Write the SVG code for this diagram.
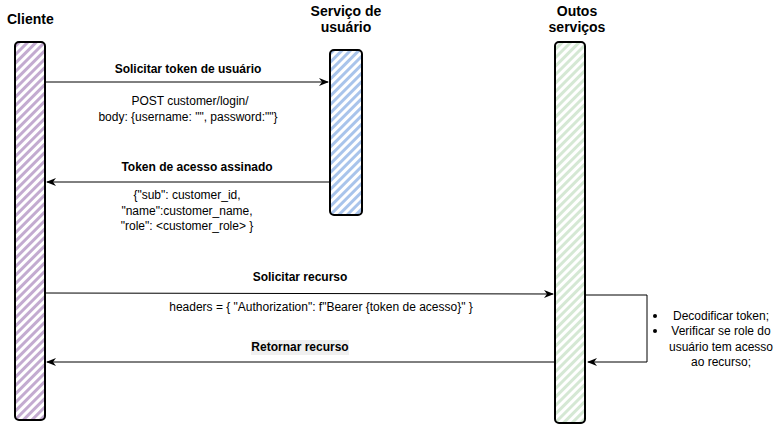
<svg xmlns="http://www.w3.org/2000/svg" width="777" height="425" viewBox="0 0 777 425">
<style>
  text { font-family: "Liberation Sans", Arial, sans-serif; fill: #000; }
  .title { font-size: 14px; font-weight: bold; }
  .lbl { font-size: 12px; font-weight: bold; }
  .txt { font-size: 12px; }
  .bar { stroke: #000; stroke-width: 2; }
  .conn { stroke: #000; stroke-width: 1; fill: none; }
</style>
<defs>
  <pattern id="hPurple" width="6" height="6" patternUnits="userSpaceOnUse" patternTransform="rotate(45)">
    <rect width="6" height="6" fill="#fff"/>
    <rect width="3" height="6" fill="#c3abd0"/>
  </pattern>
  <pattern id="hBlue" width="6" height="6" patternUnits="userSpaceOnUse" patternTransform="rotate(45)">
    <rect width="6" height="6" fill="#fff"/>
    <rect width="3" height="6" fill="#a9c4eb"/>
  </pattern>
  <pattern id="hGreen" width="6" height="6" patternUnits="userSpaceOnUse" patternTransform="rotate(45)">
    <rect width="6" height="6" fill="#fff"/>
    <rect width="3" height="6" fill="#d5e8d4"/>
  </pattern>
  <marker id="arr" viewBox="0 0 10 10" refX="9" refY="5" markerWidth="10" markerHeight="10" markerUnits="userSpaceOnUse" orient="auto">
    <path d="M0,1 L10,5 L0,9 L3,5 Z" fill="#000"/>
  </marker>
</defs>
<rect width="777" height="425" fill="#fff"/>

<g id="cliente">
  <text class="title" x="7" y="24">Cliente</text>
  <rect class="bar" x="15" y="42" width="30" height="378" rx="4" fill="url(#hPurple)"/>
</g>

<g id="servico-usuario">
  <text class="title" x="346" y="16" text-anchor="middle">Serviço de</text>
  <text class="title" x="346" y="32" text-anchor="middle">usuário</text>
  <rect class="bar" x="330" y="50" width="32" height="165" rx="4" fill="url(#hBlue)"/>
</g>

<g id="outros-servicos">
  <text class="title" x="577" y="16" text-anchor="middle">Outos</text>
  <text class="title" x="577" y="32" text-anchor="middle">serviços</text>
  <rect class="bar" x="555" y="42" width="30" height="381" rx="4" fill="url(#hGreen)"/>
</g>

<g id="processamento">
  <circle cx="655" cy="316" r="2" fill="#000"/>
  <circle cx="655" cy="331" r="2" fill="#000"/>
  <text class="txt" x="721" y="320" text-anchor="middle">Decodificar token;</text>
  <text class="txt" x="721" y="335" text-anchor="middle">Verificar se role do</text>
  <text class="txt" x="721" y="351" text-anchor="middle">usuário tem acesso</text>
  <text class="txt" x="721" y="366" text-anchor="middle">ao recurso;</text>
</g>

<g id="connectors">
  <line class="conn" x1="46" y1="82" x2="328" y2="82" marker-end="url(#arr)"/>
  <text class="lbl" x="188" y="73" text-anchor="middle">Solicitar token de usuário</text>
  <text class="txt" x="190" y="105" text-anchor="middle">POST customer/login/</text>
  <text class="txt" x="188" y="121" text-anchor="middle">body: {username: "", password:""}</text>

  <line class="conn" x1="330" y1="182" x2="47" y2="182" marker-end="url(#arr)"/>
  <text class="lbl" x="197" y="171" text-anchor="middle">Token de acesso assinado</text>
  <text class="txt" x="187" y="199" text-anchor="middle">{"sub": customer_id,</text>
  <text class="txt" x="187" y="215" text-anchor="middle">"name":customer_name,</text>
  <text class="txt" x="187" y="230" text-anchor="middle">"role": &lt;customer_role&gt; }</text>

  <line class="conn" x1="46" y1="293" x2="553" y2="294" marker-end="url(#arr)"/>
  <text class="lbl" x="300" y="281" text-anchor="middle">Solicitar recurso</text>
  <text class="txt" x="321" y="311" text-anchor="middle">headers = { "Authorization": f"Bearer {token de acesso}" }</text>

  <line class="conn" x1="555" y1="362" x2="47" y2="362" marker-end="url(#arr)"/>
  <rect x="251" y="340" width="98" height="15" fill="#f0f0f0"/>
  <text class="lbl" x="300" y="351" text-anchor="middle">Retornar recurso</text>

  <polyline class="conn" points="586,295 647,295 647,362 588,362" marker-end="url(#arr)"/>
</g>
</svg>
